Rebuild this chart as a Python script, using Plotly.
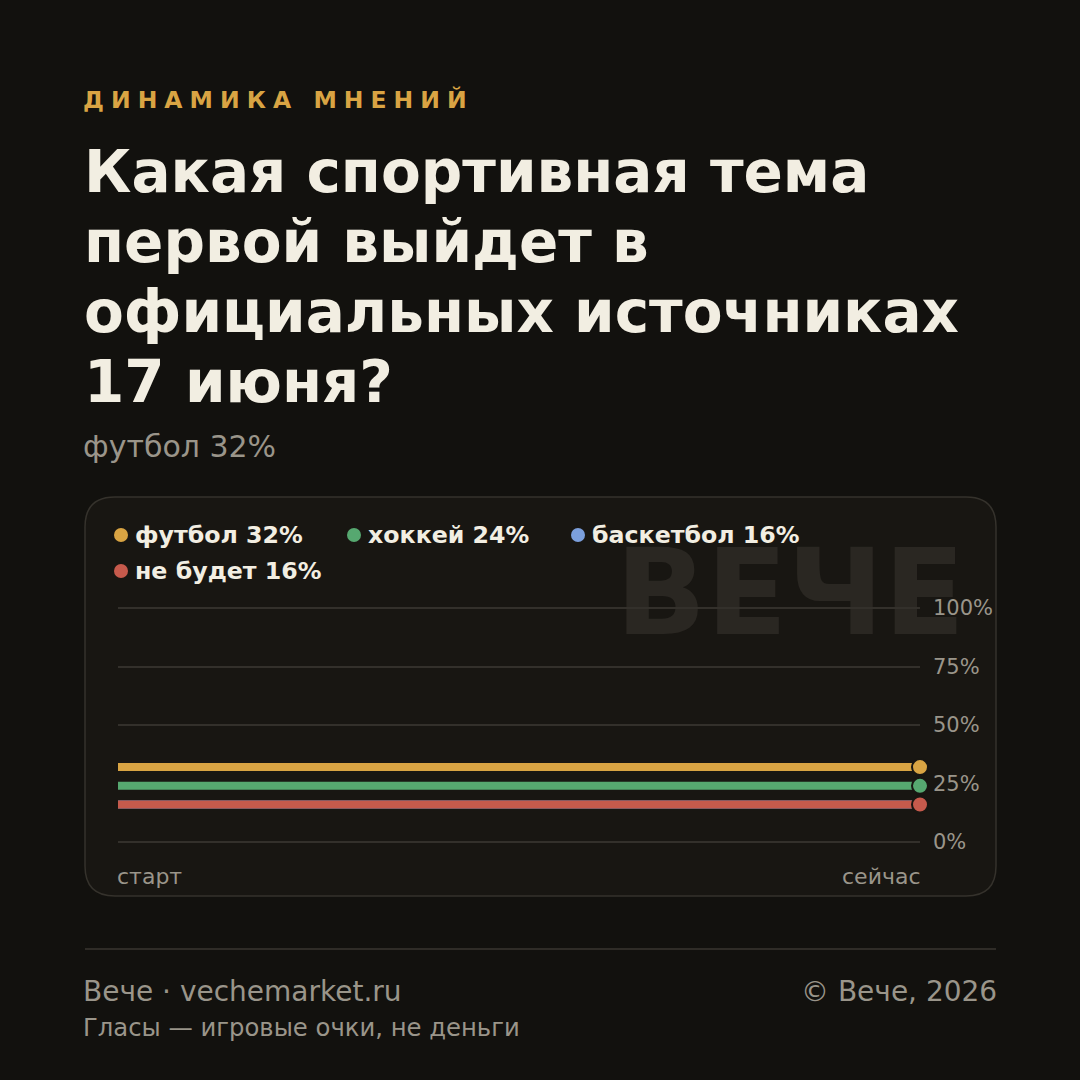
import plotly.graph_objects as go

# ---- data ----
series_names = ["футбол", "хоккей", "баскетбол", "не будет"]
series_values = [32, 24, 16, 16]
series_colors = ["#d9a443", "#56a870", "#7b9fdc", "#c65a4c"]
time_labels = ["старт", "сейчас"]
y_ticks = [0, 25, 50, 75, 100]
y_tick_labels = ["0%", "25%", "50%", "75%", "100%"]

kicker = "ДИНАМИКА МНЕНИЙ"
title_lines = ["Какая спортивная тема", "первой выйдет в", "официальных источниках", "17 июня?"]
leader_text = "футбол 32%"

W, H = 1080, 1080
L, R = 118, 920          # plot area x in px
Y100, Y0 = 608, 842      # px of 100% and 0%
T, B = 603, 847          # plot area y in px (slightly padded so edge gridlines show)
ppu = (Y0 - Y100) / 100.0
y_lo = -(B - Y0) / ppu
y_hi = 100 + (Y100 - T) / ppu

def px(x):
    return (x - L) / (R - L)

def py(y):
    return (B - y) / (B - T)

FONT = "DejaVu Sans"
BG = "#12110e"
CARD = "#181612"
GRID = "#33302b"
MUTED = "#9a958a"
CREAM = "#f2eee2"

fig = go.Figure()

xs = [0, 1]
for name, v, c in zip(series_names, series_values, series_colors):
    fig.add_trace(go.Scatter(
        x=xs, y=[v, v], mode="lines", line=dict(color=c, width=8),
        name=name, showlegend=False, hoverinfo="skip", cliponaxis=False))
    fig.add_trace(go.Scatter(
        x=[xs[-1]], y=[v], mode="markers",
        marker=dict(color=c, size=16, line=dict(color=CARD, width=2)),
        showlegend=False, hoverinfo="skip", cliponaxis=False))

shapes = []
# card with rounded corners
cx0, cy0, cx1, cy1, r = 85, 497, 996, 896, 30
path = (f"M {px(cx0+r)},{py(cy0)} L {px(cx1-r)},{py(cy0)} "
        f"Q {px(cx1)},{py(cy0)} {px(cx1)},{py(cy0+r)} "
        f"L {px(cx1)},{py(cy1-r)} Q {px(cx1)},{py(cy1)} {px(cx1-r)},{py(cy1)} "
        f"L {px(cx0+r)},{py(cy1)} Q {px(cx0)},{py(cy1)} {px(cx0)},{py(cy1-r)} "
        f"L {px(cx0)},{py(cy0+r)} Q {px(cx0)},{py(cy0)} {px(cx0+r)},{py(cy0)} Z")
shapes.append(dict(type="path", xref="paper", yref="paper", path=path,
                   fillcolor=CARD, line=dict(color="#35322c", width=1.5), layer="below"))
# watermark
shapes.append(dict(type="rect", xref="paper", yref="paper",
                   x0=px(619), x1=px(968), y0=py(641), y1=py(526),
                   line=dict(width=0), fillcolor="rgba(0,0,0,0)", layer="below",
                   label=dict(text="<b>ВЕЧЕ</b>", font=dict(family=FONT, size=119, color="#2a2722"),
                              textposition="middle right", padding=0)))
# footer rule
shapes.append(dict(type="line", xref="paper", yref="paper",
                   x0=px(85), x1=px(996), y0=py(949), y1=py(949),
                   line=dict(color="#2f2c27", width=2)))

annotations = []

def text(x, y, s, size, color, anchor="left", bold=False):
    dx = -2 if anchor == "left" else 2
    annotations.append(dict(
        x=px(x + dx), y=py(y), xref="paper", yref="paper", xanchor=anchor, yanchor="middle",
        text=(f"<b>{s}</b>" if bold else s), showarrow=False, borderpad=0,
        font=dict(family=FONT, size=size, color=color)))

gap = "\u2009\u200a"
spaced = gap.join(list(kicker))
text(84, 100, spaced, 23.5, "#d9a443", bold=True)
for i, line in enumerate(title_lines):
    text(85, 172 + 70 * i, line, 58, CREAM, bold=True)
text(84, 446, leader_text, 30, MUTED)

# legend
leg_pos = [(121, 535), (354, 535), (578, 535), (121, 571)]
for (lx, ly), name, v, c in zip(leg_pos, series_names, series_values, series_colors):
    shapes.append(dict(type="circle", xref="paper", yref="paper",
                       xsizemode="pixel", ysizemode="pixel",
                       xanchor=px(lx), yanchor=py(ly), x0=-7, x1=7, y0=-7, y1=7,
                       fillcolor=c, line=dict(width=0)))
    text(lx + 15, ly, f"{name} {v}%", 23.7, CREAM, bold=True)

# time labels
text(118, 876, time_labels[0], 22, MUTED)
text(920, 876, time_labels[1], 22, MUTED, anchor="right")

# footer
text(84, 991, "Вече · vechemarket.ru", 28, MUTED)
text(84, 1027, "Гласы — игровые очки, не деньги", 24.3, MUTED)
text(996, 991, "© Вече, 2026", 28, MUTED, anchor="right")

fig.update_layout(
    width=W, height=H,
    margin=dict(l=L, r=W - R, t=T, b=H - B, pad=0),
    paper_bgcolor=BG, plot_bgcolor="rgba(0,0,0,0)",
    shapes=shapes, annotations=annotations,
    xaxis=dict(range=[0, 1], showgrid=False, zeroline=False, showticklabels=False,
               showline=False, fixedrange=True),
    yaxis=dict(range=[y_lo, y_hi], side="right", tickvals=y_ticks, ticktext=y_tick_labels,
               showgrid=True, gridcolor=GRID, gridwidth=2, zeroline=False, showline=False,
               ticks="", ticklabelstandoff=12,
               tickfont=dict(family=FONT, size=21, color=MUTED), fixedrange=True),
    showlegend=False,
)

fig.write_html("out.html")
